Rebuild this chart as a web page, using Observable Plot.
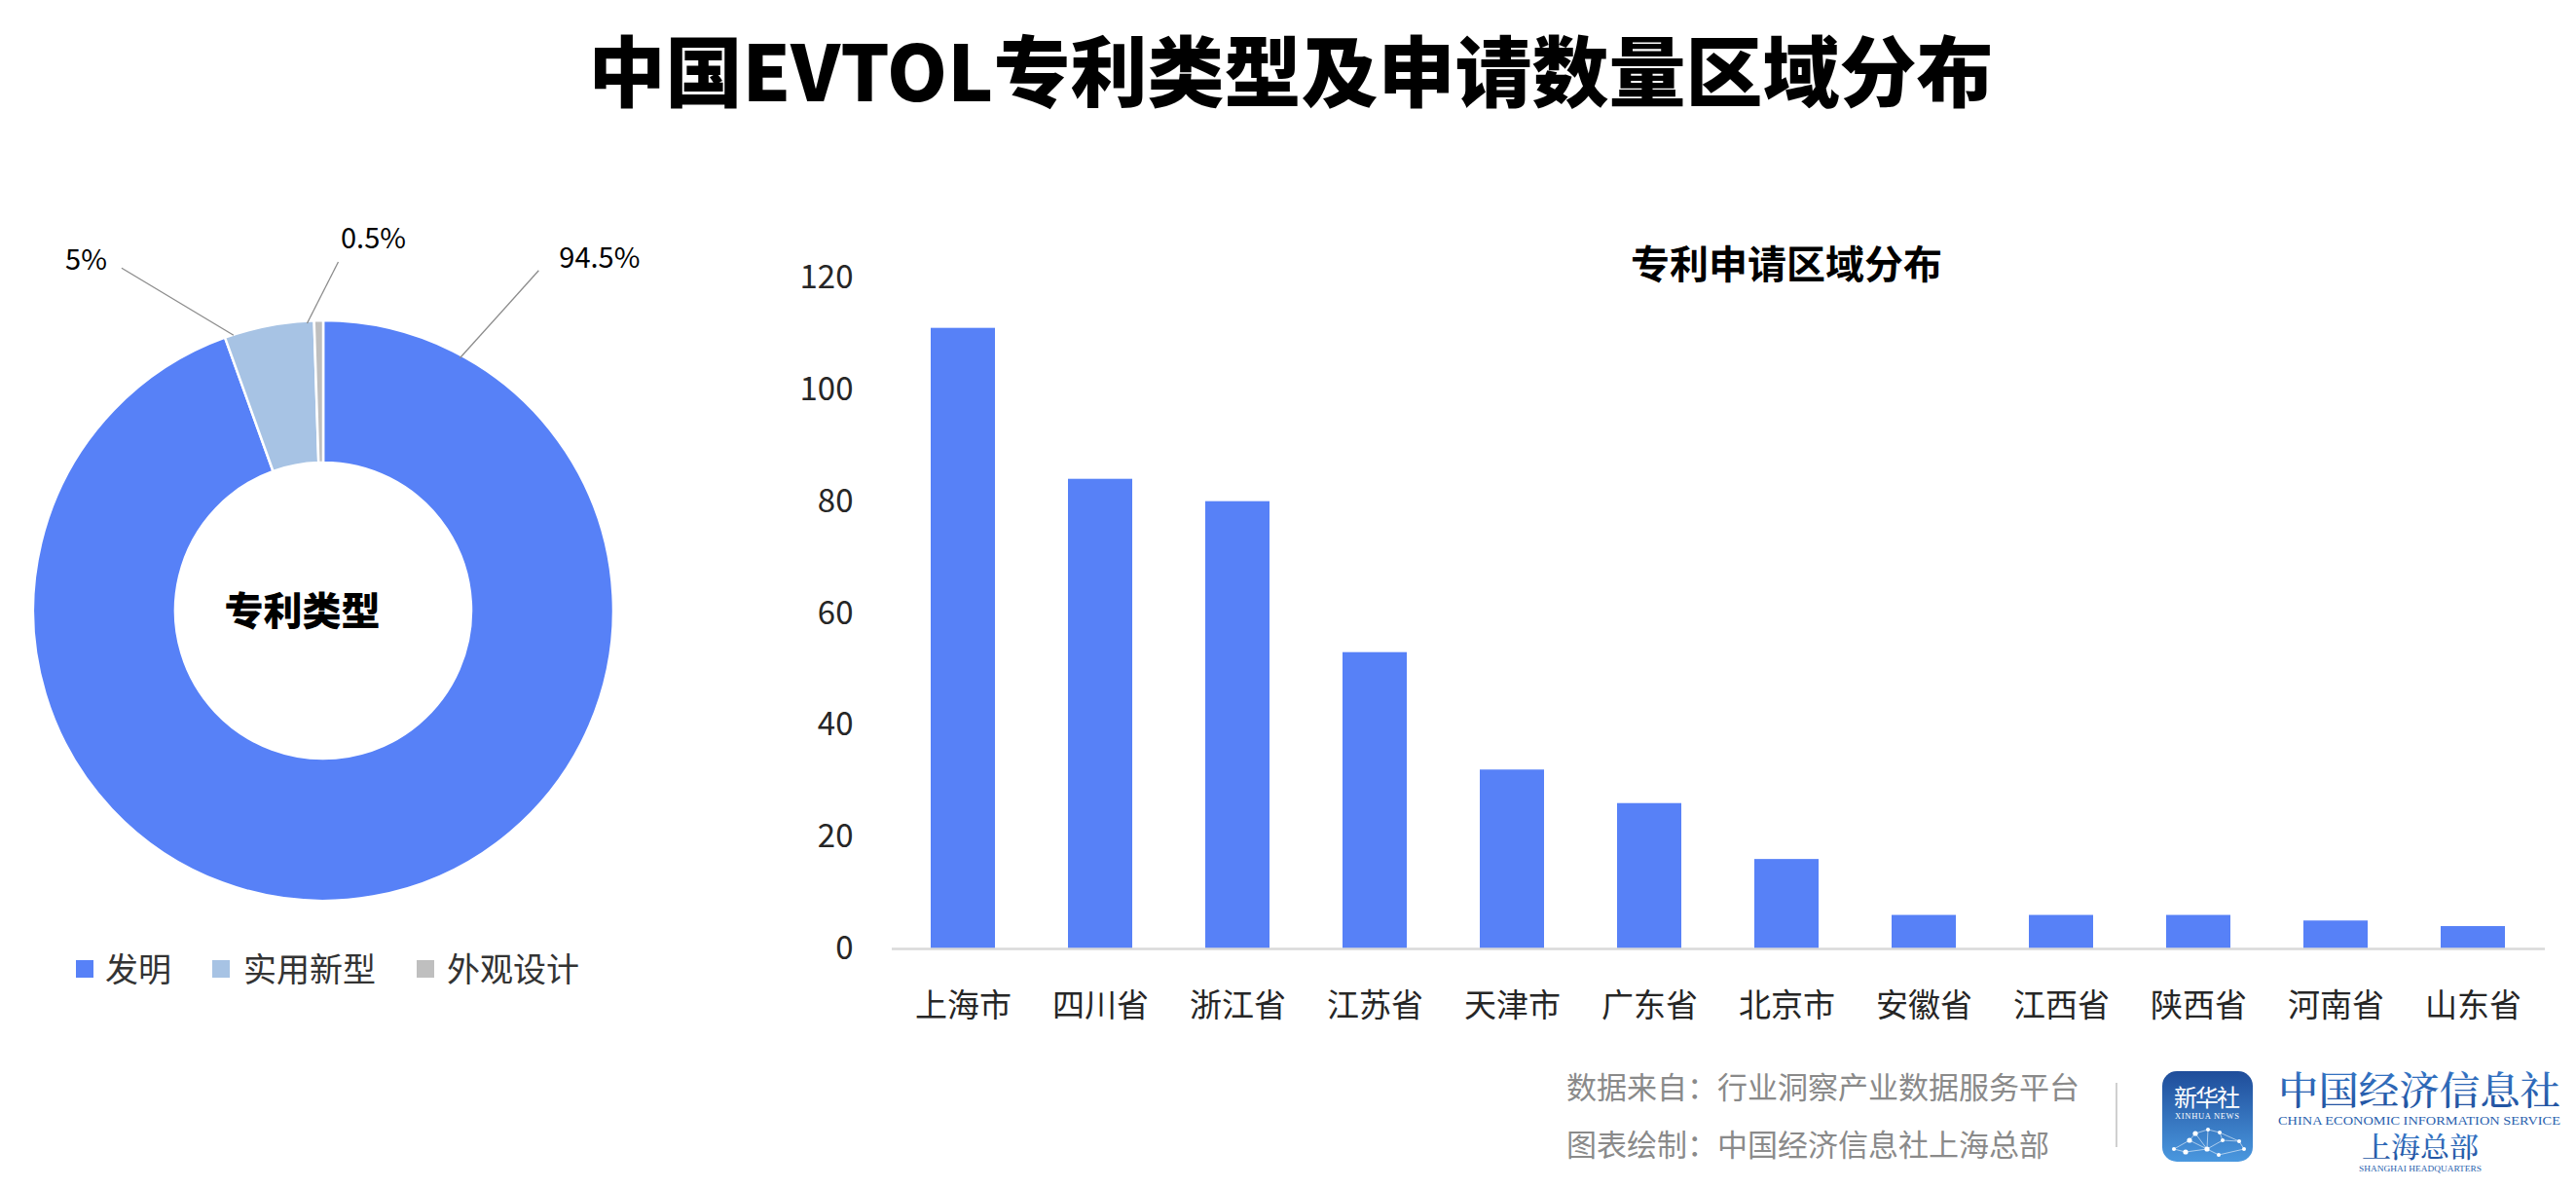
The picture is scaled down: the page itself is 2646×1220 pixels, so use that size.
<!DOCTYPE html>
<html><head><meta charset="utf-8">
<script src="https://cdn.jsdelivr.net/npm/d3@7"></script>
<script src="https://cdn.jsdelivr.net/npm/@observablehq/plot@0.6"></script>
<style>
html,body{margin:0;padding:0;background:#fff;}
#root{position:relative;width:2646px;height:1220px;overflow:hidden;font-family:"Noto Sans CJK SC","Noto Sans",sans-serif;background:#fff;}
.abs{position:absolute;white-space:nowrap;line-height:1;}
.c{transform:translate(-50%,-50%);}
.plot{position:absolute;}
</style></head><body><div id="root"></div>
<script>
// ---------- data ----------
const title = "中国EVTOL专利类型及申请数量区域分布";
const pieTitle = "专利类型";
const patentTypes = ["发明", "实用新型", "外观设计"];
const patentShares = [94.5, 5, 0.5];
const shareLabels = ["94.5%", "5%", "0.5%"];
const typeColors = ["#5781F7", "#A7C3E4", "#BFBFBF"];
const barTitle = "专利申请区域分布";
const regions = ["上海市", "四川省", "浙江省", "江苏省", "天津市", "广东省", "北京市", "安徽省", "江西省", "陕西省", "河南省", "山东省"];
const regionCounts = [111, 84, 80, 53, 32, 26, 16, 6, 6, 6, 5, 4];
const yTicks = [0, 20, 40, 60, 80, 100, 120];
const sourceLines = ["数据来自：行业洞察产业数据服务平台", "图表绘制：中国经济信息社上海总部"];
const orgName = "中国经济信息社";
const orgNameEn = "CHINA ECONOMIC INFORMATION SERVICE";
const orgBranch = "上海总部";
const orgBranchEn = "SHANGHAI HEADQUARTERS";

const FONT = '"Noto Sans CJK SC","Noto Sans",sans-serif';
const root = document.getElementById("root");
function addDiv(text, css, cls = "abs") {
  const d = document.createElement("div");
  d.className = cls;
  d.textContent = text;
  Object.assign(d.style, css);
  root.appendChild(d);
  return d;
}

// ---------- title ----------
addDiv(title, {left: "1326px", top: "69px", fontSize: "79px", fontWeight: "900", color: "#000"}, "abs c");

// ---------- donut ----------
const typeData = patentTypes.map((t, i) => ({type: t, share: patentShares[i], label: shareLabels[i]}));
const color = Plot.scale({color: {domain: patentTypes, range: typeColors}});
const pieTop = 200, cx = 332, cy = 627 - pieTop, rIn = 152, rOut = 298;
const arcs = d3.pie().sort(null).value(d => d.share)(typeData);
const arcGen = d3.arc().innerRadius(rIn).outerRadius(rOut);
function donutMark() {
  const g = d3.create("svg:g").attr("transform", `translate(${cx},${cy})`);
  g.selectAll("path").data(arcs).join("path")
    .attr("d", arcGen)
    .attr("fill", d => color.apply(d.data.type))
    .attr("stroke", "#fff").attr("stroke-width", 2.5).attr("stroke-linejoin", "round");
  return g.node();
}
// label layout (leader line anchor angle on ring, leader vector, text offset)
const labelLayout = [
  {ang: 28.3, r: 295, dx: 81, dy: -90, tx: 21, ty: -12, anchor: "start"},
  {ang: -18.1, r: 298, dx: -115, dy: -69, tx: -15, ty: -8, anchor: "end"},
  {ang: -3.3, r: 296, dx: 32, dy: -63, tx: 36, ty: -23, anchor: "middle"}
];
const labelData = typeData.map((d, i) => {
  const L = labelLayout[i];
  const a = L.ang * Math.PI / 180;
  const x1 = cx + L.r * Math.sin(a), y1 = cy - L.r * Math.cos(a);
  const x2 = x1 + L.dx, y2 = y1 + L.dy;
  return {...d, x1, y1, x2, y2, tx: x2 + L.tx, ty: y2 + L.ty, anchor: L.anchor};
});
const pieMarks = [
  donutMark,
  Plot.link(labelData, {x1: "x1", y1: "y1", x2: "x2", y2: "y2", stroke: "#8c8c8c", strokeWidth: 1.3}),
  ...labelData.map(d => Plot.text([d], {x: "tx", y: "ty", text: "label", textAnchor: d.anchor, fontSize: 29, fill: "#000"})),
  Plot.text([pieTitle], {x: () => 310, y: () => cy + 2, text: d => d, fontSize: 40, fontWeight: 900, fill: "#000"})
];
const pie = Plot.plot({
  width: 760, height: 760, margin: 0,
  x: {type: "identity", axis: null}, y: {type: "identity", axis: null},
  style: {fontFamily: FONT, background: "transparent", overflow: "visible"},
  marks: pieMarks
});
pie.classList.add("plot");
Object.assign(pie.style, {left: "0px", top: pieTop + "px"});
root.appendChild(pie);

// legend
const legendPos = [{sq: 78, tx: 108}, {sq: 218, tx: 250}, {sq: 428, tx: 459}];
patentTypes.forEach((t, i) => {
  const sq = document.createElement("div");
  sq.className = "abs";
  Object.assign(sq.style, {left: legendPos[i].sq + "px", top: "986px", width: "18px", height: "18px", background: color.apply(t)});
  root.appendChild(sq);
  addDiv(t, {left: legendPos[i].tx + "px", top: "977px", fontSize: "34px", color: "#333"});
});

// ---------- bar chart ----------
addDiv(barTitle, {left: "1835px", top: "269px", fontSize: "40px", fontWeight: "700", color: "#000"}, "abs c");
const barData = regions.map((r, i) => ({region: r, count: regionCounts[i]}));
const bars = Plot.plot({
  width: 1886, height: 850,
  marginLeft: 156, marginRight: 32, marginTop: 55, marginBottom: 106,
  style: {fontFamily: FONT, fontSize: "33px", color: "#262626", background: "transparent", overflow: "visible"},
  x: {domain: regions, paddingInner: 0.53, paddingOuter: 0.265, label: null, tickSize: 0, tickPadding: 46},
  y: {domain: [0, 120], ticks: yTicks, label: null, tickSize: 0, tickPadding: 40},
  marks: [
    Plot.barY(barData, {x: "region", y: "count", fill: typeColors[0]}),
    Plot.ruleY([0], {stroke: "#d9d9d9", strokeWidth: 2.5})
  ]
});
bars.classList.add("plot");
Object.assign(bars.style, {left: "760px", top: "230px"});
root.appendChild(bars);

// ---------- footer ----------
addDiv(sourceLines[0], {left: "1609px", top: "1099px", fontSize: "31px", color: "#8a8a8a"});
addDiv(sourceLines[1], {left: "1609px", top: "1158px", fontSize: "31px", color: "#8a8a8a"});
const divider = document.createElement("div");
divider.className = "abs";
Object.assign(divider.style, {left: "2173px", top: "1112px", width: "2px", height: "66px", background: "#d0d0d0"});
root.appendChild(divider);

const logo = d3.create("svg").attr("width", 428).attr("height", 120)
  .style("position", "absolute").style("left", "2216px").style("top", "1095px").style("overflow", "visible");
const defs = logo.append("defs");
const lg = defs.append("linearGradient").attr("id", "lg").attr("x1", 0).attr("y1", 0).attr("x2", 0).attr("y2", 1);
lg.append("stop").attr("offset", "0").attr("stop-color", "#1f4d9a");
lg.append("stop").attr("offset", "1").attr("stop-color", "#4a98df");
const tg = defs.append("linearGradient").attr("id", "tg").attr("x1", 0).attr("y1", 0).attr("x2", 0).attr("y2", 1);
tg.append("stop").attr("offset", "0").attr("stop-color", "#3a7fcf");
tg.append("stop").attr("offset", "1").attr("stop-color", "#1f4d9a");
const L = logo.append("g").attr("transform", "translate(5,5)");
L.append("rect").attr("width", 93).attr("height", 93).attr("rx", 15).attr("fill", "url(#lg)");
L.append("text").attr("x", 46).attr("y", 36).attr("text-anchor", "middle").attr("fill", "#fff")
  .attr("font-size", 24).attr("font-family", FONT).attr("textLength", 68).text("新华社");
L.append("text").attr("x", 46).attr("y", 49).attr("text-anchor", "middle").attr("fill", "#fff")
  .attr("font-size", 8.5).attr("font-family", '"Liberation Serif",serif').attr("textLength", 66).text("XINHUA NEWS");
const nodes = [[34,64],[47,60],[59,63],[28,71],[62,71],[79,72],[46,80],[12,80],[84,80],[24,83],[58,86]];
const edges = [[0,1],[1,2],[0,3],[2,4],[4,5],[3,6],[6,4],[3,7],[5,8],[7,9],[9,6],[6,10],[10,8],[0,6],[1,6],[2,5]];
edges.forEach(([a,b]) => L.append("line").attr("x1", nodes[a][0]).attr("y1", nodes[a][1]).attr("x2", nodes[b][0]).attr("y2", nodes[b][1]).attr("stroke", "rgba(255,255,255,0.7)").attr("stroke-width", 0.8));
nodes.forEach(([x,y], i) => L.append("circle").attr("cx", x).attr("cy", y).attr("r", i % 3 === 0 ? 2.6 : 2).attr("fill", "#fff"));
logo.append("text").attr("x", 124).attr("y", 39).attr("fill", "url(#tg)")
  .attr("font-size", 40).attr("font-family", '"Noto Serif CJK SC",serif').attr("font-weight", 500)
  .attr("textLength", 290).attr("lengthAdjust", "spacingAndGlyphs").text(orgName);
logo.append("text").attr("x", 124).attr("y", 60).attr("fill", "#2a5fae")
  .attr("font-size", 12.5).attr("font-family", '"Liberation Serif",serif').attr("textLength", 290).attr("lengthAdjust", "spacingAndGlyphs").text(orgNameEn);
logo.append("text").attr("x", 270).attr("y", 94).attr("text-anchor", "middle").attr("fill", "url(#tg)")
  .attr("font-size", 29).attr("font-family", '"Noto Serif CJK SC",serif').attr("font-weight", 500)
  .attr("textLength", 120).attr("lengthAdjust", "spacingAndGlyphs").text(orgBranch);
logo.append("text").attr("x", 270).attr("y", 108).attr("text-anchor", "middle").attr("fill", "#2a5fae")
  .attr("font-size", 7.5).attr("font-family", '"Liberation Serif",serif').attr("textLength", 126).attr("lengthAdjust", "spacingAndGlyphs").text(orgBranchEn);
root.appendChild(logo.node());
</script></body></html>
